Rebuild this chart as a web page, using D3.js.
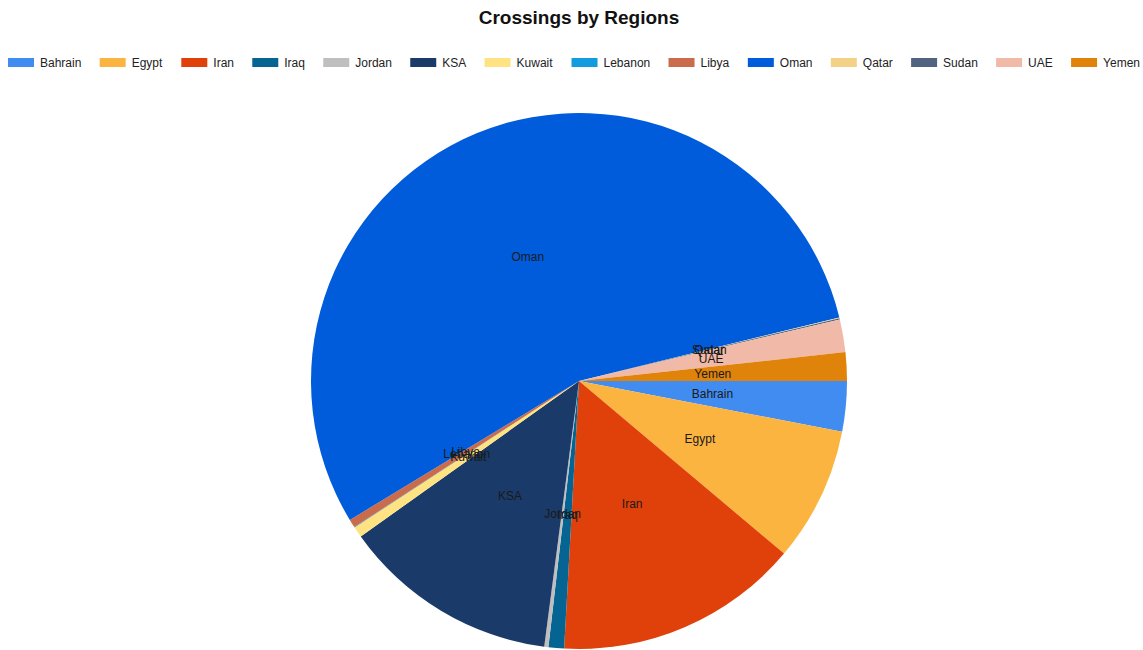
<!DOCTYPE html>
<html>
<head>
<meta charset="utf-8">
<script src="https://cdn.jsdelivr.net/npm/d3@7"></script>
<style>
  body { margin: 0; background: #fff; }
  svg { display: block; font-family: "Liberation Sans", Arial, sans-serif; }
</style>
</head>
<body>
<script>
// 地域名
var regions = ["Bahrain", "Egypt", "Iran", "Iraq", "Jordan", "KSA", "Kuwait",
  "Lebanon", "Libya", "Oman", "Qatar", "Sudan", "UAE", "Yemen"];
// 横断数
var crossings = [303, 811, 1475, 94, 25, 1308, 65, 3, 50, 5488, 4, 8, 197, 172];
// 色
var colors = ["#418CF0", "#FCB441", "#E0400A", "#056492", "#BFBFBF", "#1A3B69", "#FFE382",
  "#129CDD", "#CA6B4B", "#005CDB", "#F3D288", "#506381", "#F1B9A8", "#E0830A"];

var width = 1143, height = 650;
var cx = 579, cy = 381, radius = 268;

var svg = d3.select("body").append("svg")
  .attr("width", width)
  .attr("height", height);

// タイトル
svg.append("text")
  .attr("x", 579)
  .attr("y", 24)
  .attr("text-anchor", "middle")
  .style("font-size", "19px")
  .style("font-weight", "bold")
  .style("fill", "#111")
  .text("Crossings by Regions");

// 凡例
var legend = svg.append("g").attr("class", "legend");
var items = legend.selectAll("g")
  .data(regions)
  .enter().append("g");
items.append("rect")
  .attr("width", 26)
  .attr("height", 9)
  .attr("y", 58)
  .attr("fill", function(d, i) { return colors[i]; });
items.append("text")
  .attr("x", 32)
  .attr("y", 67)
  .style("font-size", "12px")
  .style("fill", "#222")
  .text(function(d) { return d; });

// 各項目の幅を測って横一列に並べる
var widths = [];
items.each(function() { widths.push(this.getBBox().width); });
var left = 8, right = 1140;
var sum = d3.sum(widths);
var gap = (right - left - sum) / (regions.length - 1);
var pos = left;
items.attr("transform", function(d, i) {
  var t = "translate(" + pos + ",0)";
  pos += widths[i] + gap;
  return t;
});

// 円グラフ (3時の方向から時計回り)
var pie = d3.pie()
  .sort(null)
  .startAngle(Math.PI / 2)
  .endAngle(Math.PI / 2 + 2 * Math.PI)
  .value(function(d) { return d; });

var arc = d3.arc().innerRadius(0).outerRadius(radius);
var labelArc = d3.arc().innerRadius(radius * 0.5).outerRadius(radius * 0.5);

var arcs = pie(crossings);

var g = svg.append("g").attr("transform", "translate(" + cx + "," + cy + ")");

g.selectAll("path")
  .data(arcs)
  .enter().append("path")
  .attr("d", arc)
  .attr("fill", function(d, i) { return colors[i]; });

// スライスのラベル (参照画像と同じく小さいスライスは重なる)
g.selectAll("text")
  .data(arcs)
  .enter().append("text")
  .attr("transform", function(d) { return "translate(" + labelArc.centroid(d) + ")"; })
  .attr("dy", "0.35em")
  .attr("text-anchor", "middle")
  .style("font-size", "12px")
  .style("fill", "#1a1a1a")
  .text(function(d, i) { return regions[i]; });
</script>
</body>
</html>
